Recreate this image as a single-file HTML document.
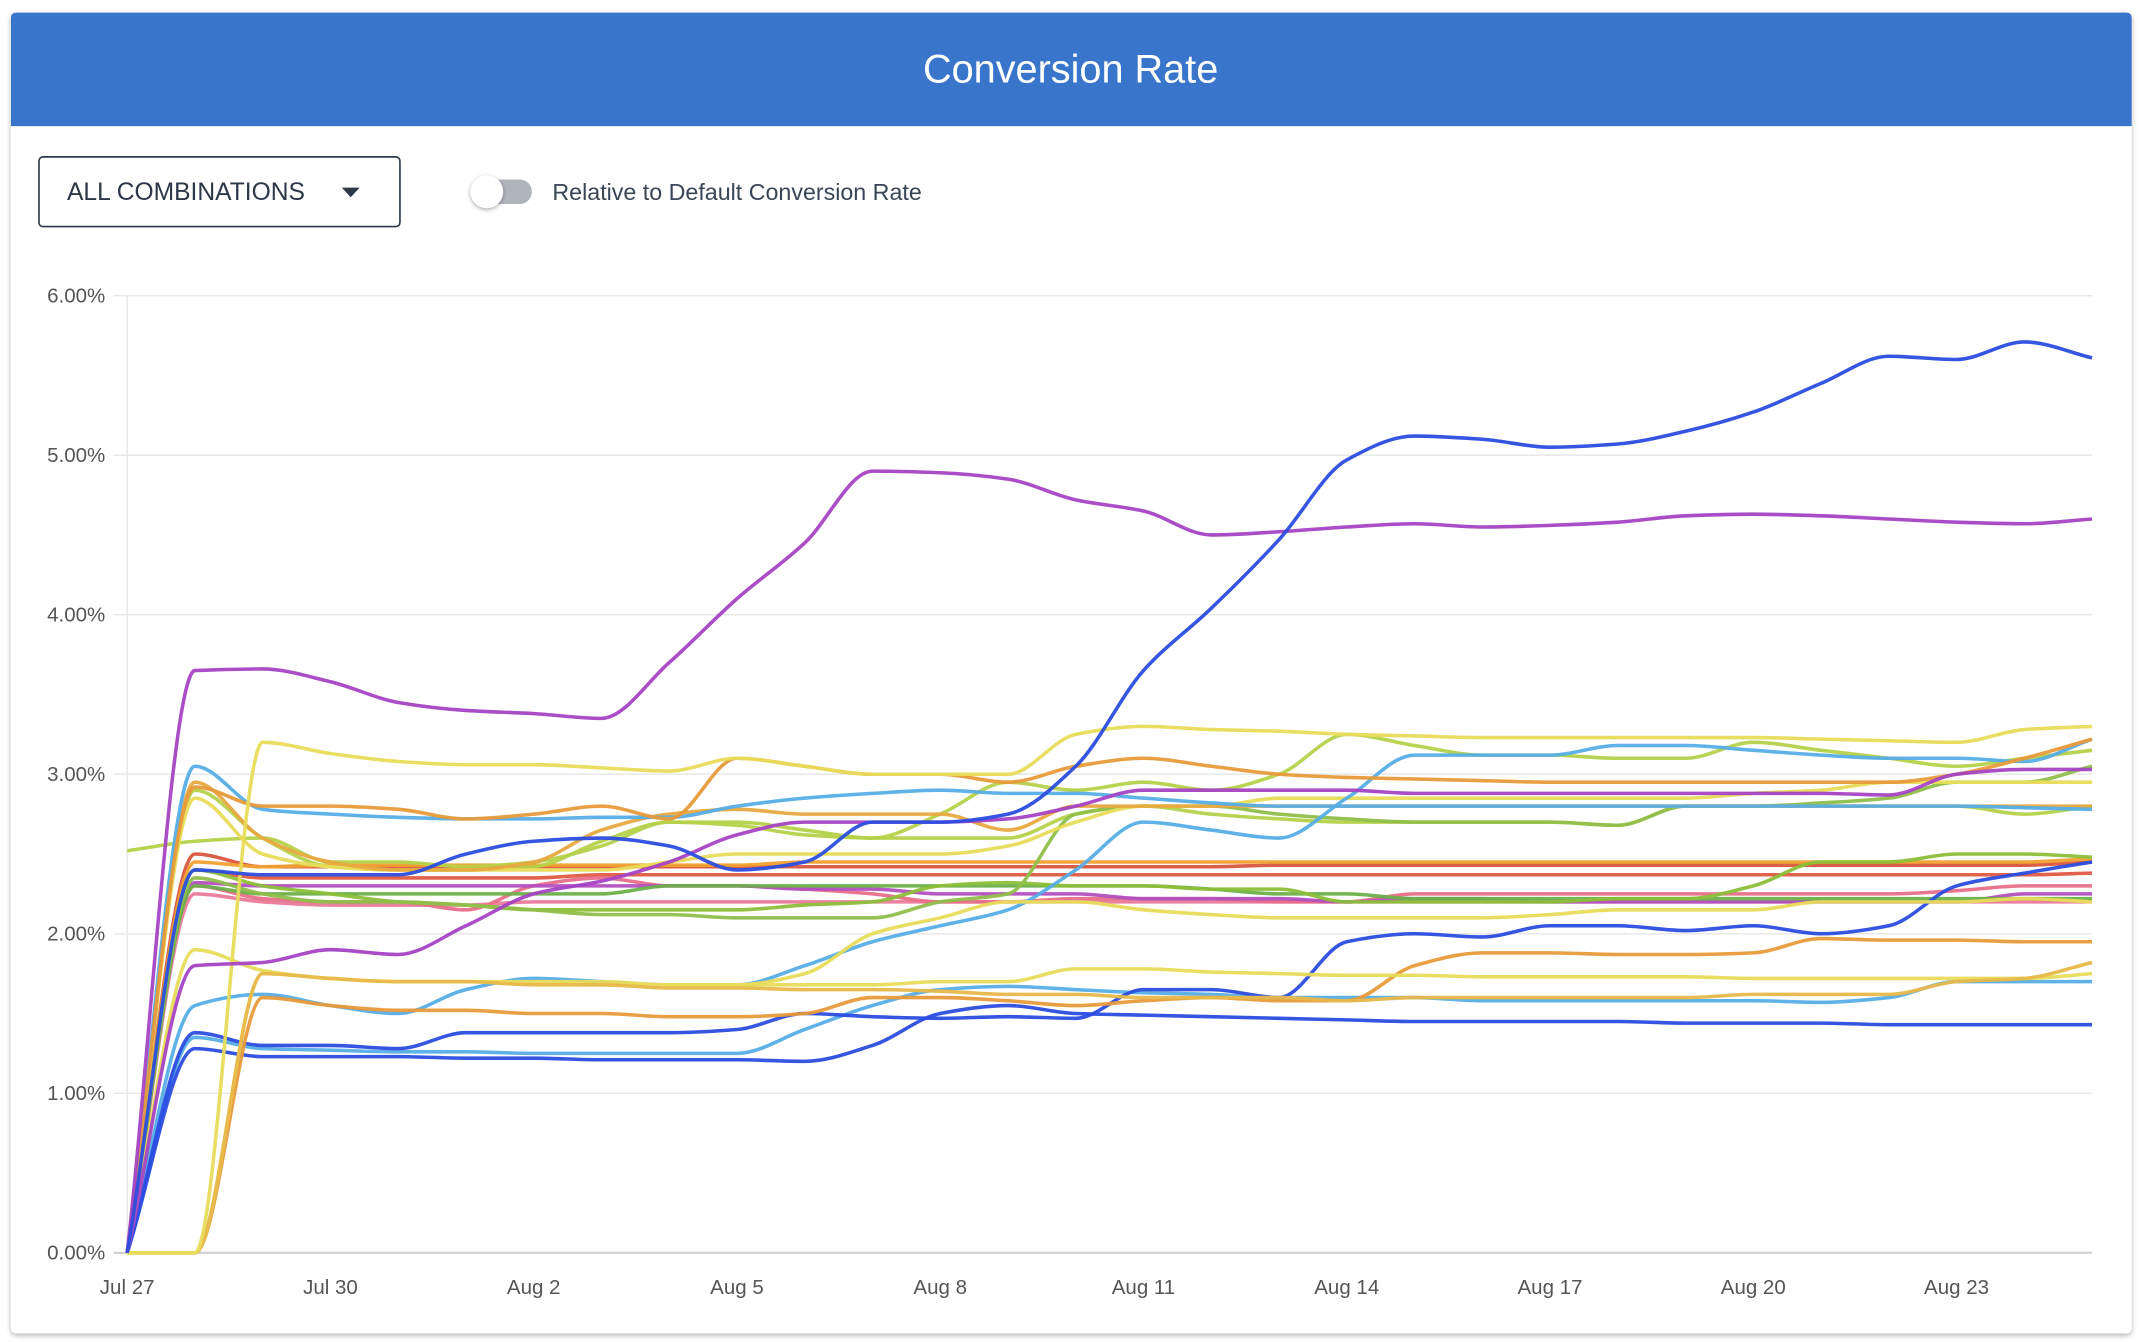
<!DOCTYPE html>
<html><head><meta charset="utf-8"><style>
html,body{margin:0;padding:0;background:#fff;width:2144px;height:1342px;overflow:hidden}
svg{display:block}
text{font-family:"Liberation Sans",sans-serif}
</style></head><body>
<svg id="root" width="2144" height="1342" viewBox="0 0 1568 981">
<defs><filter id="sh" x="-5%" y="-5%" width="110%" height="110%"><feDropShadow dx="0" dy="1.5" stdDeviation="2" flood-color="#000" flood-opacity="0.3"/></filter>
<filter id="ks" x="-50%" y="-50%" width="200%" height="200%"><feDropShadow dx="0" dy="1" stdDeviation="1.5" flood-color="#000" flood-opacity="0.35"/></filter></defs>
<rect x="8" y="9" width="1551" height="966" rx="4" fill="#fff" filter="url(#sh)"/>
<path d="M12 9 H1555 Q1559 9 1559 13 V92 H8 V13 Q8 9 12 9Z" fill="#3a75cc"/>
<text x="783" y="60" text-anchor="middle" font-size="29" fill="#fff">Conversion Rate</text>
<g>
<rect x="28.5" y="114.5" width="264" height="51" rx="3" fill="#fff" stroke="#2d3a4a" stroke-width="1.2"/>
<text x="49" y="146" font-size="18" fill="#2d3748">ALL COMBINATIONS</text>
<path d="M250 137 H263 L256.5 144Z" fill="#2d3748"/>
</g>
<g>
<rect x="345" y="131" width="44" height="18" rx="9" fill="#b0b4bb"/>
<circle cx="356" cy="140" r="12" fill="#fff" filter="url(#ks)"/>
</g>
<text x="404" y="146" font-size="17" fill="#3a4555">Relative to Default Conversion Rate</text>
<g id="axes"></g>
<g id="lines"></g>
</svg>
<script>
const dates=["Jul 27","Jul 28","Jul 29","Jul 30","Jul 31","Aug 1","Aug 2","Aug 3","Aug 4","Aug 5","Aug 6","Aug 7","Aug 8","Aug 9","Aug 10","Aug 11","Aug 12","Aug 13","Aug 14","Aug 15","Aug 16","Aug 17","Aug 18","Aug 19","Aug 20","Aug 21","Aug 22","Aug 23","Aug 24","Aug 25"];
const xTickLabels=["Jul 27","Jul 30","Aug 2","Aug 5","Aug 8","Aug 11","Aug 14","Aug 17","Aug 20","Aug 23"];
const yTicks=[0,1,2,3,4,5,6];
const s0=[0,2.4,2.37,2.37,2.37,2.5,2.58,2.6,2.55,2.4,2.45,2.7,2.7,2.75,3.05,3.65,4.04,4.47,4.97,5.12,5.1,5.05,5.07,5.15,5.27,5.45,5.62,5.6,5.71,5.61];
const s1=[0,3.65,3.66,3.58,3.45,3.4,3.38,3.35,3.7,4.1,4.45,4.9,4.89,4.85,4.72,4.65,4.5,4.52,4.55,4.57,4.55,4.56,4.58,4.62,4.63,4.62,4.6,4.58,4.57,4.6];
const s2=[0,1.8,1.82,1.9,1.87,2.05,2.25,2.33,2.45,2.62,2.7,2.7,2.7,2.72,2.8,2.9,2.9,2.9,2.9,2.88,2.88,2.88,2.88,2.88,2.88,2.88,2.87,3.0,3.03,3.03];
const s3=[0,0,3.2,3.13,3.08,3.06,3.06,3.04,3.02,3.1,3.05,3.0,3.0,3.0,3.25,3.3,3.28,3.27,3.25,3.24,3.23,3.23,3.23,3.23,3.23,3.22,3.21,3.2,3.28,3.3];
const s4=[0,3.05,2.78,2.75,2.73,2.72,2.72,2.73,2.73,2.8,2.85,2.88,2.9,2.88,2.88,2.85,2.82,2.8,2.8,2.8,2.8,2.8,2.8,2.8,2.8,2.8,2.8,2.8,2.79,2.78];
const s5=[0,1.55,1.62,1.55,1.5,1.65,1.72,1.7,1.68,1.68,1.8,1.95,2.05,2.15,2.4,2.7,2.65,2.6,2.85,3.12,3.12,3.12,3.18,3.18,3.15,3.12,3.1,3.1,3.08,3.22];
const s6=[0,1.35,1.28,1.27,1.26,1.26,1.25,1.25,1.25,1.25,1.4,1.55,1.65,1.67,1.65,1.63,1.62,1.6,1.6,1.6,1.58,1.58,1.58,1.58,1.58,1.57,1.6,1.7,1.7,1.7];
const s7=[0,1.28,1.23,1.23,1.23,1.22,1.22,1.21,1.21,1.21,1.2,1.3,1.5,1.55,1.5,1.49,1.48,1.47,1.46,1.45,1.45,1.45,1.45,1.44,1.44,1.44,1.43,1.43,1.43,1.43];
const s8=[0,1.38,1.3,1.3,1.28,1.38,1.38,1.38,1.38,1.4,1.5,1.48,1.47,1.48,1.47,1.65,1.65,1.6,1.95,2.0,1.98,2.05,2.05,2.02,2.05,2.0,2.05,2.3,2.38,2.45];
const s9=[0,2.92,2.8,2.8,2.78,2.72,2.75,2.8,2.72,3.1,3.05,3.0,3.0,2.95,3.05,3.1,3.05,3.0,2.98,2.97,2.96,2.95,2.95,2.95,2.95,2.95,2.95,3.0,3.1,3.22];
const s10=[0,0,1.6,1.55,1.52,1.52,1.5,1.5,1.48,1.48,1.5,1.6,1.6,1.58,1.55,1.58,1.6,1.58,1.58,1.8,1.88,1.88,1.87,1.87,1.88,1.97,1.96,1.96,1.95,1.95];
const s11=[0,0,1.75,1.72,1.7,1.7,1.69,1.68,1.68,1.68,1.75,2.0,2.1,2.2,2.2,2.15,2.12,2.1,2.1,2.1,2.1,2.12,2.15,2.15,2.15,2.2,2.2,2.2,2.22,2.2];
const s12=[0,1.9,1.77,1.72,1.7,1.7,1.7,1.7,1.68,1.68,1.68,1.68,1.7,1.7,1.78,1.78,1.76,1.75,1.74,1.74,1.73,1.73,1.73,1.73,1.72,1.72,1.72,1.72,1.72,1.75];
const s13=[0,0,1.75,1.72,1.7,1.7,1.68,1.68,1.66,1.66,1.65,1.65,1.64,1.62,1.62,1.6,1.6,1.6,1.58,1.6,1.6,1.6,1.6,1.6,1.62,1.62,1.62,1.7,1.72,1.82];
const s14=[2.52,2.58,2.6,2.45,2.45,2.42,2.45,2.55,2.7,2.7,2.65,2.6,2.6,2.6,2.75,2.8,2.75,2.72,2.7,2.7,2.7,2.7,2.68,2.8,2.8,2.8,2.8,2.8,2.75,2.8];
const s15=[0,2.35,2.25,2.2,2.2,2.18,2.15,2.12,2.12,2.1,2.1,2.1,2.2,2.25,2.75,2.8,2.8,2.75,2.72,2.7,2.7,2.7,2.68,2.8,2.8,2.82,2.85,2.95,2.95,3.05];
const s16=[0,2.9,2.6,2.42,2.4,2.4,2.42,2.58,2.7,2.68,2.62,2.6,2.75,2.95,2.9,2.95,2.9,3.0,3.25,3.18,3.12,3.12,3.1,3.1,3.2,3.15,3.1,3.05,3.1,3.15];
const s17=[0,2.5,2.42,2.42,2.42,2.42,2.42,2.42,2.42,2.42,2.42,2.42,2.42,2.42,2.42,2.42,2.42,2.43,2.43,2.43,2.43,2.43,2.43,2.43,2.43,2.43,2.43,2.43,2.43,2.45];
const s18=[0,2.4,2.35,2.35,2.35,2.35,2.35,2.37,2.37,2.37,2.37,2.37,2.37,2.37,2.37,2.37,2.37,2.37,2.37,2.37,2.37,2.37,2.37,2.37,2.37,2.37,2.37,2.37,2.37,2.38];
const s19=[0,2.25,2.2,2.18,2.18,2.18,2.2,2.2,2.2,2.2,2.2,2.2,2.2,2.2,2.2,2.2,2.2,2.2,2.2,2.2,2.2,2.2,2.2,2.2,2.2,2.2,2.2,2.2,2.2,2.2];
const s20=[0,2.3,2.22,2.2,2.2,2.15,2.3,2.35,2.3,2.3,2.28,2.25,2.2,2.2,2.22,2.22,2.22,2.2,2.2,2.25,2.25,2.25,2.25,2.25,2.25,2.25,2.25,2.27,2.3,2.3];
const s21=[0,2.32,2.3,2.3,2.3,2.3,2.3,2.3,2.3,2.3,2.28,2.28,2.25,2.25,2.25,2.22,2.22,2.22,2.2,2.22,2.22,2.2,2.2,2.2,2.2,2.2,2.2,2.2,2.25,2.25];
const s22=[0,2.45,2.42,2.43,2.43,2.43,2.43,2.43,2.43,2.43,2.45,2.45,2.45,2.45,2.45,2.45,2.45,2.45,2.45,2.45,2.45,2.45,2.45,2.45,2.45,2.45,2.45,2.45,2.45,2.47];
const s23=[0,2.3,2.25,2.25,2.25,2.25,2.25,2.25,2.3,2.3,2.3,2.3,2.3,2.3,2.3,2.3,2.28,2.25,2.25,2.22,2.22,2.22,2.22,2.22,2.22,2.22,2.22,2.22,2.22,2.22];
const s24=[0,2.4,2.3,2.25,2.2,2.18,2.15,2.15,2.15,2.15,2.18,2.2,2.3,2.32,2.3,2.3,2.28,2.28,2.2,2.2,2.2,2.2,2.22,2.22,2.3,2.45,2.45,2.5,2.5,2.48];
const s25=[0,2.85,2.5,2.42,2.4,2.4,2.4,2.4,2.45,2.5,2.5,2.5,2.5,2.55,2.7,2.8,2.8,2.85,2.85,2.85,2.85,2.85,2.85,2.85,2.88,2.9,2.95,2.95,2.95,2.95];
const s26=[0,2.95,2.6,2.45,2.4,2.4,2.45,2.65,2.75,2.78,2.75,2.75,2.75,2.65,2.8,2.8,2.8,2.8,2.8,2.8,2.8,2.8,2.8,2.8,2.8,2.8,2.8,2.8,2.8,2.8];
const series=[s17,s18,s19,s20,s21,s22,s23,s24,s14,s15,s16,s25,s26,s4,s5,s6,s7,s8,s9,s10,s11,s12,s13,s3,s2,s1,s0];
const seriesColorOrder=["#d9553f","#e05a45","#e87a9a","#e86f8a","#b34fc0","#f0a030","#6cb04a","#8cbf3a","#b5d24a","#8fbf4a","#b5d24a","#e8dc5a","#e8a840","#55aee6","#55aee6","#55aee6","#2b4de0","#2b4de0","#e89a3a","#e89a3a","#e8dc5a","#e8dc5a","#e8b84a","#e8dc5a","#a543c4","#a543c4","#2b4de0"];

const X0=93,X1=1530,Y0=916,Y6=216;
const xS=i=>X0+(X1-X0)*i/(dates.length-1);
const yS=v=>Y0-(Y0-Y6)*v/6;
const NS="http://www.w3.org/2000/svg";
const axes=document.getElementById('axes'),lines=document.getElementById('lines');
yTicks.forEach(t=>{
  const l=document.createElementNS(NS,'line');
  l.setAttribute('x1',83);l.setAttribute('x2',X1);l.setAttribute('y1',yS(t));l.setAttribute('y2',yS(t));
  l.setAttribute('stroke',t===0?'#cfcfcf':'#e6e6e6');l.setAttribute('stroke-width',t===0?1.5:1);
  
  
  axes.appendChild(l);
  const tx=document.createElementNS(NS,'text');
  tx.setAttribute('x',77);tx.setAttribute('y',yS(t)+5);tx.setAttribute('text-anchor','end');
  tx.setAttribute('font-size',15);tx.setAttribute('fill','#555');tx.textContent=t.toFixed(2)+'%';
  
  
  axes.appendChild(tx);
});
const va=document.createElementNS(NS,'line');
va.setAttribute('x1',X0);va.setAttribute('x2',X0);va.setAttribute('y1',Y6);va.setAttribute('y2',Y0);
va.setAttribute('stroke','#e6e6e6');


axes.appendChild(va);
xTickLabels.forEach(lab=>{
  const i=dates.indexOf(lab);
  const tx=document.createElementNS(NS,'text');
  tx.setAttribute('x',xS(i));tx.setAttribute('y',946);tx.setAttribute('text-anchor','middle');
  tx.setAttribute('font-size',15);tx.setAttribute('fill','#555');tx.textContent=lab;
  
  
  axes.appendChild(tx);
});
function pathFor(vals){
  const p=vals.map((v,i)=>[xS(i),yS(v)]);
  const n=p.length,h=p[1][0]-p[0][0];
  const d0=[];for(let i=0;i<n-1;i++)d0.push((p[i+1][1]-p[i][1])/h);
  const m=new Array(n);
  m[0]=d0[0];m[n-1]=d0[n-2];
  for(let i=1;i<n-1;i++){
    if(d0[i-1]*d0[i]<=0)m[i]=0;
    else m[i]=2/(1/d0[i-1]+1/d0[i]);
  }
  let d='M'+p[0][0]+' '+p[0][1];
  for(let i=0;i<n-1;i++){
    d+=` C${p[i][0]+h/3} ${p[i][1]+m[i]*h/3} ${p[i+1][0]-h/3} ${p[i+1][1]-m[i+1]*h/3} ${p[i+1][0]} ${p[i+1][1]}`;
  }
  return d;
}
series.forEach((vals,k)=>{
  const p=document.createElementNS(NS,'path');
  p.setAttribute('d',pathFor(vals));p.setAttribute('fill','none');
  p.setAttribute('stroke',seriesColorOrder[k]);p.setAttribute('stroke-width',2.6);
  p.setAttribute('stroke-linejoin','round');p.setAttribute('opacity',0.95);
  
  
  lines.appendChild(p);
});
</script>
</body></html>
